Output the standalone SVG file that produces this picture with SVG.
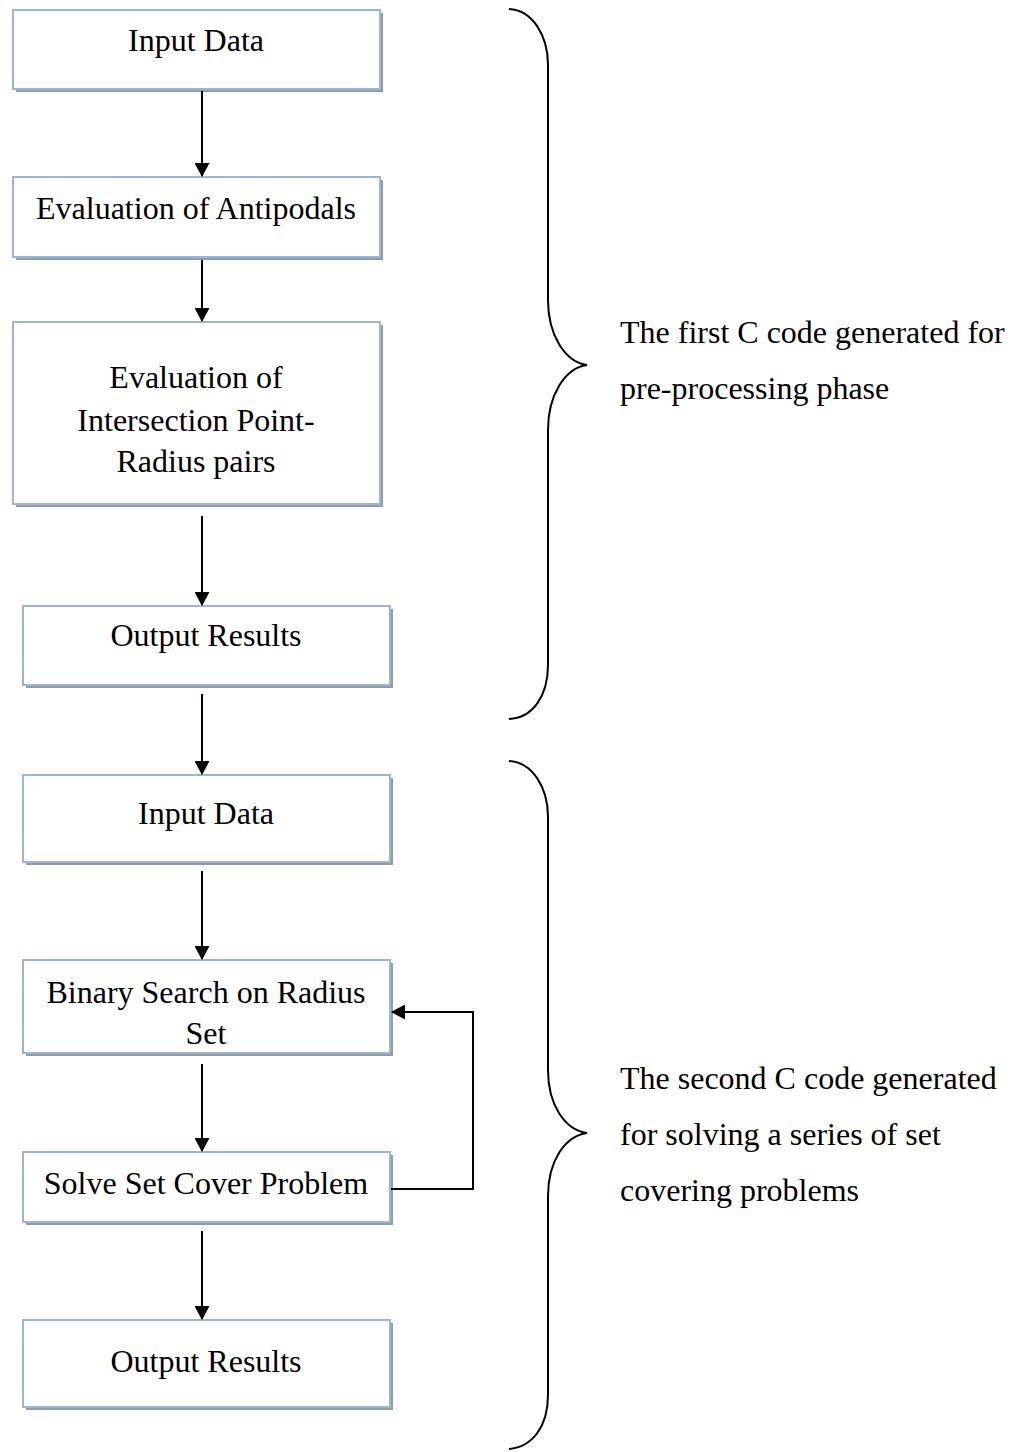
<svg xmlns="http://www.w3.org/2000/svg" width="1019" height="1452" viewBox="0 0 1019 1452">
<defs>
<style>
.sh{fill:#8f9cae}
.bx{fill:#fff;stroke:#9bb5d6;stroke-width:2}
.t{font-family:"Liberation Serif","Times New Roman",serif;font-size:32px;fill:#000}
.c{text-anchor:middle}
.ln{fill:none;stroke:#000;stroke-width:2}
.br{fill:none;stroke:#000;stroke-width:2}
</style>
<marker id="ah" viewBox="0 0 14 15" refX="13" refY="7.5" markerWidth="14" markerHeight="15" markerUnits="userSpaceOnUse" orient="auto">
<path d="M0,0 L14,7.5 L0,15 z" fill="#000"/>
</marker>
</defs>
<g id="n1"><rect class="sh" x="16" y="13" width="367" height="79"/><rect class="bx" x="13" y="10" width="367" height="79"/><text class="t c" x="196" y="51">Input Data</text></g>
<g id="n2"><rect class="sh" x="16" y="180" width="367" height="80"/><rect class="bx" x="13" y="177" width="367" height="80"/><text class="t c" x="196" y="219">Evaluation of Antipodals</text></g>
<g id="n3"><rect class="sh" x="16" y="325" width="367" height="182"/><rect class="bx" x="13" y="322" width="367" height="182"/><text class="t c" x="196" y="388">Evaluation of</text><text class="t c" x="196" y="431">Intersection Point-</text><text class="t c" x="196" y="472">Radius pairs</text></g>
<g id="n4"><rect class="sh" x="26" y="609" width="367" height="79"/><rect class="bx" x="23" y="606" width="367" height="79"/><text class="t c" x="206" y="646">Output Results</text></g>
<g id="n5"><rect class="sh" x="26" y="778" width="367" height="87"/><rect class="bx" x="23" y="775" width="367" height="87"/><text class="t c" x="206" y="824">Input Data</text></g>
<g id="n6"><rect class="sh" x="26" y="963" width="367" height="93"/><rect class="bx" x="23" y="960" width="367" height="93"/><text class="t c" x="206" y="1003">Binary Search on Radius</text><text class="t c" x="206" y="1044">Set</text></g>
<g id="n7"><rect class="sh" x="26" y="1155" width="367" height="70"/><rect class="bx" x="23" y="1152" width="367" height="70"/><text class="t c" x="206" y="1194">Solve Set Cover Problem</text></g>
<g id="n8"><rect class="sh" x="26" y="1323" width="367" height="87"/><rect class="bx" x="23" y="1320" width="367" height="87"/><text class="t c" x="206" y="1372">Output Results</text></g>
<g id="connectors">
<line class="ln" x1="202" y1="91" x2="202" y2="176" marker-end="url(#ah)"/>
<line class="ln" x1="202" y1="260" x2="202" y2="321" marker-end="url(#ah)"/>
<line class="ln" x1="202" y1="516" x2="202" y2="605" marker-end="url(#ah)"/>
<line class="ln" x1="202" y1="694" x2="202" y2="774" marker-end="url(#ah)"/>
<line class="ln" x1="202" y1="871" x2="202" y2="959" marker-end="url(#ah)"/>
<line class="ln" x1="202" y1="1064" x2="202" y2="1151" marker-end="url(#ah)"/>
<line class="ln" x1="202" y1="1231" x2="202" y2="1319" marker-end="url(#ah)"/>
<polyline class="ln" points="391,1189 473,1189 473,1012 392,1012" marker-end="url(#ah)"/>
</g>
<g id="braces">
<path class="br" d="M509,9 C532,10 548,35 548,65 L548,300 C548,335 565,362 587,365 C565,368 548,395 548,430 L548,665 C548,697 532,718 509,719"/>
<path class="br" d="M509,761 C532,762 548,787 548,817 L548,1070 C548,1105 565,1130 587,1133 C565,1136 548,1161 548,1196 L548,1395 C548,1427 532,1447 509,1449"/>
</g>
<g id="labels">
<text class="t" x="620" y="343">The first C code generated for</text>
<text class="t" x="620" y="399">pre-processing phase</text>
<text class="t" x="620" y="1089">The second C code generated</text>
<text class="t" x="620" y="1145">for solving a series of set</text>
<text class="t" x="620" y="1201">covering problems</text>
</g>
</svg>
